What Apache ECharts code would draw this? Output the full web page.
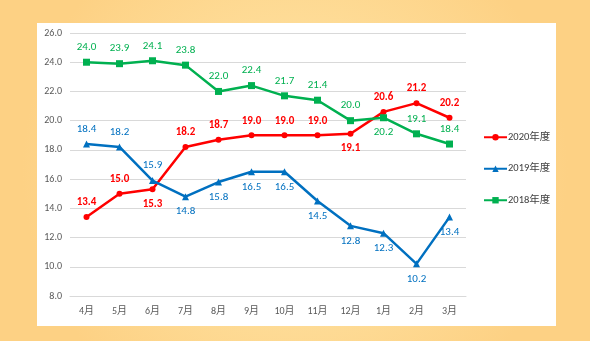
<!DOCTYPE html>
<html><head><meta charset="utf-8">
<script src="https://cdn.jsdelivr.net/npm/echarts@6/dist/echarts.min.js"></script>
<style>html,body{margin:0;padding:0;}#c{width:590px;height:341px;}</style>
</head><body><div id="c"></div>
<script>
const categories = ['4月','5月','6月','7月','8月','9月','10月','11月','12月','1月','2月','3月'];
const s2020 = [13.4,15.0,15.3,18.2,18.7,19.0,19.0,19.0,19.1,20.6,21.2,20.2];
const s2019 = [18.4,18.2,15.9,14.8,15.8,16.5,16.5,14.5,12.8,12.3,10.2,13.4];
const s2018 = [24.0,23.9,24.1,23.8,22.0,22.4,21.7,21.4,20.0,20.2,19.1,18.4];
const pos2020 = ['top','top','bottom','top','top','top','top','top','bottom','top','top','top'];
const pos2019 = ['top','top','top','bottom','bottom','bottom','bottom','bottom','bottom','bottom','bottom','bottom'];
const pos2018 = ['top','top','top','top','top','top','top','top','top','bottom','top','top'];
const names = ['2020年度','2019年度','2018年度'];

function mk(vals, pos){
  return vals.map((v,i)=>({value:v,label:{position:pos[i]}}));
}
const font = 'Calibri, Carlito, "Liberation Sans", "Noto Sans CJK JP", sans-serif';
const chart = echarts.init(document.getElementById('c'));
chart.setOption({
  animation:false,
  backgroundColor:{type:'radial',x:0.5,y:0.5,r:0.8,colorStops:[{offset:0,color:'#FFE8AC'},{offset:1,color:'#FDD184'}]},
  graphic:[{type:'rect',shape:{x:37,y:23,width:519,height:303},style:{fill:'#FFFFFF'},z:-1}],
  textStyle:{fontFamily:font},
  grid:{left:70,right:124,top:33,bottom:45},
  legend:{
    orient:'vertical',left:483,top:132,padding:0,itemGap:21,itemWidth:23,itemHeight:8,
    data:names,textStyle:{fontSize:10.5,color:'#404040',padding:[0,0,0,-4]}
  },
  xAxis:{type:'category',data:categories,boundaryGap:true,
    axisLine:{lineStyle:{color:'#D9D9D9'}},axisTick:{show:false},
    axisLabel:{color:'#595959',fontSize:10,margin:10}},
  yAxis:{type:'value',min:8,max:26,interval:2,
    axisLabel:{color:'#595959',fontSize:10,formatter:v=>v.toFixed(1),margin:8},
    splitLine:{lineStyle:{color:'#D9D9D9'}},axisLine:{show:false},axisTick:{show:false}},
  series:[
    {name:names[0],type:'line',data:mk(s2020,pos2020),color:'#FF0000',
     symbol:'circle',symbolSize:6,lineStyle:{width:2.5},
     label:{show:true,fontSize:11,fontWeight:'bold',color:'#FF0000',distance:6,formatter:p=>p.value.toFixed(1)}},
    {name:names[1],type:'line',data:mk(s2019,pos2019),color:'#0070C0',
     symbol:'triangle',symbolSize:7,lineStyle:{width:2.5},
     label:{show:true,fontSize:11,color:'#0070C0',distance:6,formatter:p=>p.value.toFixed(1)}},
    {name:names[2],type:'line',data:mk(s2018,pos2018),color:'#00B050',
     symbol:'rect',symbolSize:7,lineStyle:{width:2.5},
     label:{show:true,fontSize:11,color:'#00B050',distance:6,formatter:p=>p.value.toFixed(1)}}
  ]
});
</script></body></html>
